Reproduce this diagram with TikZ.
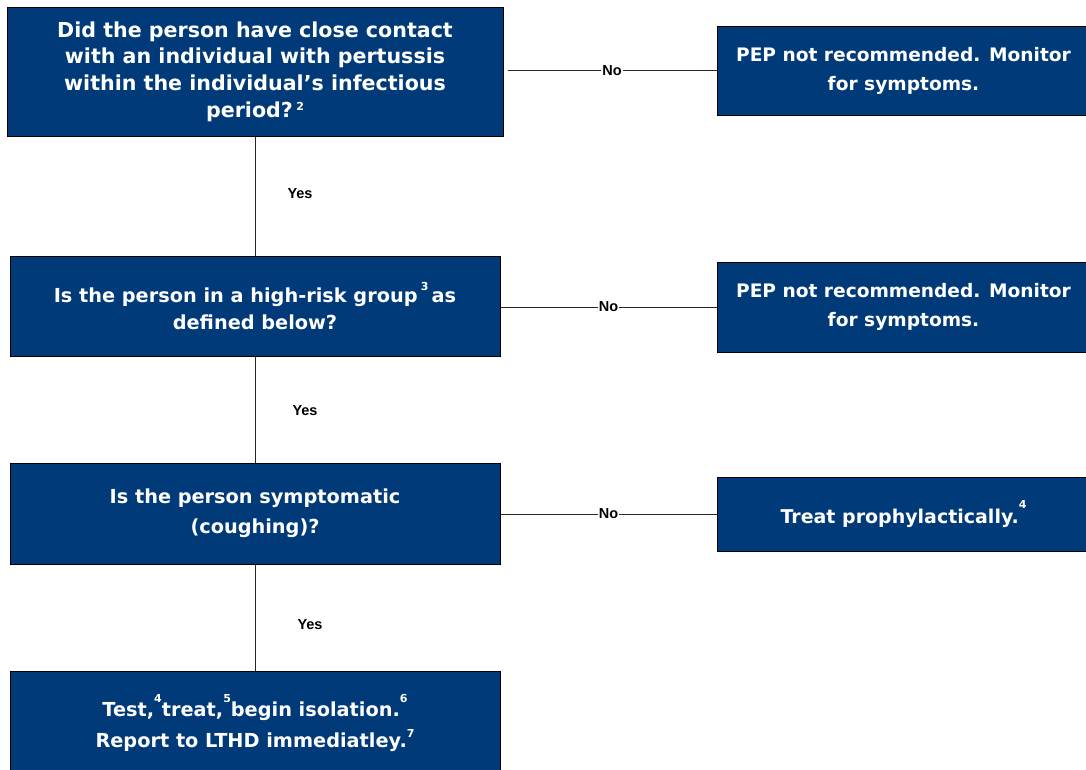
\documentclass[tikz,border=0pt]{standalone}
\usepackage{fontspec}
\setmainfont{DejaVu Sans}
\newfontfamily\lblfont{Liberation Sans}
\definecolor{boxblue}{RGB}{0,58,120}
\newcommand{\supnum}[2][1.2ex]{\raisebox{#1}{\fontsize{11}{11}\selectfont #2}}
\begin{document}
\begin{tikzpicture}[x=1pt,y=-1pt,
  qbox/.style={draw=black, line width=1pt, fill=boxblue, text=white, align=center,
    inner sep=0pt, font=\fontsize{19.3}{29}\selectfont\bfseries},
  conn/.style={draw=black!85, line width=1pt},
  lbl/.style={font=\lblfont\fontsize{14.5}{16}\selectfont\bfseries, text=black, fill=white, inner sep=1pt}]
\useasboundingbox (0,0) rectangle (1086,769);
\node[qbox, minimum width=496, minimum height=129, font=\fontsize{20.6}{26.7}\selectfont\bfseries] (b1) at (255,71.5)
  {Did the person have close contact\\with an individual with pertussis\\within the individual’s infectious\\period?\,\supnum[0.6ex]{2}};
\node[qbox, minimum width=373, minimum height=89, font=\fontsize{18.6}{29}\selectfont\bfseries] (r1) at (903.5,70.5)
  {PEP not recommended. Monitor\\for symptoms.};
\node[qbox, minimum width=490, minimum height=100, font=\fontsize{19.3}{27}\selectfont\bfseries] (b2) at (255,306)
  {Is the person in a high-risk group\,\supnum{3}\,as\\defined below?};
\node[qbox, minimum width=373, minimum height=90, font=\fontsize{18.6}{29}\selectfont\bfseries] (r2) at (903.5,307)
  {PEP not recommended. Monitor\\for symptoms.};
\node[qbox, minimum width=490, minimum height=101, font=\fontsize{19.3}{30}\selectfont\bfseries] (b3) at (255,513.5)
  {Is the person symptomatic\\(coughing)?};
\node[qbox, minimum width=373, minimum height=74, font=\fontsize{19}{29}\selectfont\bfseries] (r3) at (903.5,514)
  {Treat prophylactically.\supnum[1.4ex]{4}};
\node[qbox, minimum width=490, minimum height=104, font=\fontsize{19.3}{31}\selectfont\bfseries] (b4) at (255,723)
  {Test,\supnum[1.4ex]{4}treat,\supnum[1.4ex]{5}begin isolation.\supnum[1.4ex]{6}\\Report to LTHD immediatley.\supnum[1.0ex]{7}};
\draw[conn] (b1.south) -- node[lbl, pos=0.48, xshift=45] {Yes} (b2.north);
\draw[conn] (b2.south) -- node[lbl, pos=0.51, xshift=50] {Yes} (b3.north);
\draw[conn] (b3.south) -- node[lbl, pos=0.57, xshift=55] {Yes} (b4.north);
\draw[conn] ([xshift=4]b1.east |- r1.west) -- node[lbl] {No} (r1.west);
\draw[conn] (b2.east |- r2.west) -- node[lbl] {No} (r2.west);
\draw[conn] (b3.east |- r3.west) -- node[lbl] {No} (r3.west);
\end{tikzpicture}
\end{document}
